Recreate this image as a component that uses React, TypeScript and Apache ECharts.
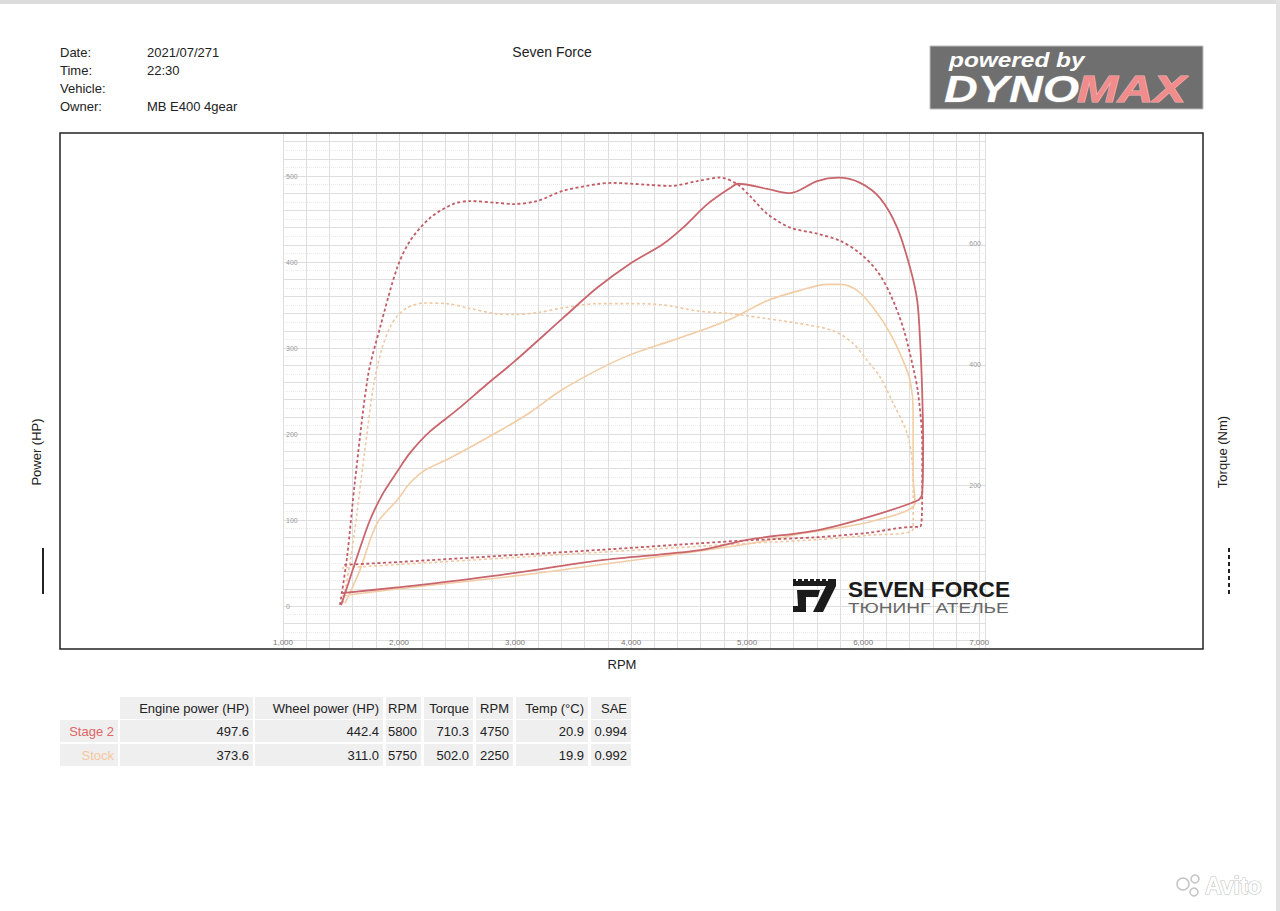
import React, { useEffect, useRef } from 'react';
import * as echarts from 'echarts';

// ---------- data ----------
const rpmLabelValues = [1000, 2000, 3000, 4000, 5000, 6000, 7000];
const hpLabelValues = [0, 100, 200, 300, 400, 500];
const torqueLabelValues = [200, 400, 600];

const stage2PowerRpm = [1500, 1560, 1638, 1750, 1862, 1983, 2095, 2267, 2500, 2750, 3000, 3414, 3707, 3991, 4276, 4448, 4655, 4853, 4922, 5172, 5371, 5603, 5784, 5974, 6147, 6293, 6405, 6466, 6492, 6509, 6517, 6509, 6474, 6035, 5603, 5000, 4595, 3733, 2871, 2009, 1509];
const stage2PowerHp = [1, 25, 57, 100, 131, 156, 178, 203, 228, 257, 285, 335, 370, 398, 421, 440, 467, 486, 491, 485, 480, 494, 498, 492, 474, 440, 393, 355, 305, 247, 189, 131, 123, 103, 88, 77, 65, 53, 36, 22, 15];

const stage2TorqueRpm = [1491, 1552, 1621, 1733, 1836, 1983, 2095, 2267, 2466, 2612, 2845, 2983, 3190, 3414, 3707, 3845, 4138, 4336, 4569, 4767, 4914, 5026, 5172, 5371, 5603, 5802, 5974, 6121, 6233, 6345, 6431, 6474, 6509, 6509, 6491, 6431, 6035, 5603, 5026, 4595, 3733, 2871, 2009, 1509];
const stage2TorqueNm = [2, 81, 208, 382, 461, 560, 605, 643, 666, 671, 668, 666, 671, 688, 699, 701, 698, 696, 704, 710, 699, 679, 650, 627, 617, 605, 584, 555, 517, 461, 395, 352, 269, 187, 131, 131, 121, 114, 109, 104, 93, 83, 73, 68];

const stockPowerRpm = [1534, 1600, 1664, 1810, 1983, 2095, 2224, 2440, 2871, 3129, 3388, 3733, 3991, 4336, 4595, 4879, 5172, 5457, 5690, 5802, 5948, 6086, 6233, 6345, 6405, 6431, 6431, 6431, 6448, 6060, 5457, 5000, 4000, 3000, 2000, 1510];
const stockPowerHp = [3, 22, 42, 96, 123, 143, 158, 172, 204, 225, 250, 276, 292, 308, 320, 335, 355, 367, 374, 374, 367, 347, 317, 285, 262, 227, 189, 150, 120, 98, 84, 72, 53, 35, 20, 12];

const stockTorqueRpm = [1517, 1600, 1700, 1780, 1850, 1922, 1983, 2069, 2207, 2414, 2612, 2845, 2983, 3190, 3414, 3707, 3991, 4276, 4569, 4879, 5172, 5457, 5741, 5914, 6035, 6147, 6259, 6379, 6422, 6431, 6431, 6035, 5603, 5026, 4595, 3733, 2871, 2009, 1509];
const stockTorqueNm = [5, 100, 250, 365, 425, 462, 480, 494, 502, 501, 493, 484, 483, 486, 494, 501, 501, 499, 489, 484, 476, 468, 456, 435, 407, 379, 336, 286, 241, 187, 128, 117, 110, 104, 99, 89, 79, 69, 63];

const infoLabels = ['Date:', 'Time:', 'Vehicle:', 'Owner:'];
const infoValues = ['2021/07/271', '22:30', '', 'MB E400 4gear'];
const chartTitle = 'Seven Force';

const tableHeader = ['', 'Engine power (HP)', 'Wheel power (HP)', 'RPM', 'Torque', 'RPM', 'Temp (°C)', 'SAE'];
const runNames = ['Stage 2', 'Stock'];
const stage2Row = ['497.6', '442.4', '5800', '710.3', '4750', '20.9', '0.994'];
const stockRow = ['373.6', '311.0', '5750', '502.0', '2250', '19.9', '0.992'];

// ---------- styles ----------
const FONT = '"Liberation Sans", Arial, Helvetica, sans-serif';
const STAGE2 = '#c9656c';
const STAGE2_DASH = '#c05c66';
const STOCK = '#f2cca4';
const STOCK_DASH = '#efc9a4';

const zip = (a: number[], b: number[]) => a.map((x, i) => [x, b[i]]);

function txt(text: string, x: number, y: number, opts: any = {}) {
  const align = opts.align || 'left';
  const va = opts.verticalAlign || 'middle';
  const style: any = {
    text,
    fill: opts.fill || '#222',
    stroke: opts.stroke,
    lineWidth: opts.lineWidth,
    align,
    textAlign: align,
    verticalAlign: va,
    textVerticalAlign: va,
  };
  if (opts.font) {
    style.font = opts.font;
  } else {
    style.fontSize = opts.fontSize || 13;
    style.fontFamily = opts.fontFamily || FONT;
    style.fontWeight = opts.fontWeight || 'normal';
  }
  return {
    type: 'text',
    x,
    y,
    z: opts.z ?? 50,
    rotation: opts.rotation || 0,
    scaleX: opts.scaleX || 1,
    scaleY: opts.scaleY || 1,
    style,
  };
}

function buildGraphics() {
  const els: any[] = [];
  // page edges
  els.push({ type: 'rect', shape: { x: 0, y: 0, width: 1280, height: 4 }, style: { fill: '#dcdcdc' }, z: 1 });
  els.push({ type: 'rect', shape: { x: 1276, y: 0, width: 4, height: 911 }, style: { fill: '#e2e2e2' }, z: 1 });

  // header info
  infoLabels.forEach((l, i) => {
    els.push(txt(l, 60, 52 + i * 18, { fontSize: 13 }));
    if (infoValues[i]) els.push(txt(infoValues[i], 147, 52 + i * 18, { fontSize: 13 }));
  });
  els.push(txt(chartTitle, 552, 52, { align: 'center', fontSize: 14 }));

  // DYNOMAX logo
  els.push({ type: 'rect', shape: { x: 930, y: 46, width: 273, height: 63 }, style: { fill: '#6f6f6f', stroke: '#bdbdbd', lineWidth: 1 }, z: 40 });
  els.push(txt('powered by', 949, 60, { fill: '#ffffff', font: 'italic bold 20px "Liberation Sans", sans-serif', scaleX: 1.22 }));
  els.push(txt('DYNO', 944, 89, { fill: '#ffffff', stroke: '#8a8a8a', lineWidth: 1, font: 'italic bold 36px "Liberation Sans", sans-serif', scaleX: 1.3 }));
  els.push(txt('MAX', 1077, 89, { fill: '#f08c8c', stroke: '#f5b5b5', lineWidth: 1, font: 'italic bold 36px "Liberation Sans", sans-serif', scaleX: 1.36 }));

  // chart frame
  els.push({ type: 'rect', shape: { x: 60, y: 133, width: 1143, height: 516 }, style: { fill: 'none', stroke: '#222', lineWidth: 1.5 }, z: 60 });

  // axis titles + legend marks
  els.push(txt('Power (HP)', 36, 452, { align: 'center', rotation: Math.PI / 2, fontSize: 13 }));
  els.push(txt('Torque (Nm)', 1222, 452, { align: 'center', rotation: Math.PI / 2, fontSize: 13 }));
  els.push({ type: 'line', shape: { x1: 43, y1: 548, x2: 43, y2: 594 }, style: { stroke: '#222', lineWidth: 2 }, z: 50 });
  els.push({ type: 'line', shape: { x1: 1229, y1: 548, x2: 1229, y2: 594 }, style: { stroke: '#222', lineWidth: 2, lineDash: [4, 3] }, z: 50 });
  els.push(txt('RPM', 622, 664, { align: 'center', fontSize: 13 }));

  // Seven Force logo mark
  const dark = '#1b1b1b';
  els.push({ type: 'rect', shape: { x: 793, y: 579, width: 43, height: 7 }, style: { fill: dark }, z: 55 });
  for (let i = 0; i < 6; i++) {
    els.push({ type: 'rect', shape: { x: 796 + i * 6, y: 579, width: 2, height: 2 }, style: { fill: '#ffffff' }, z: 56 });
  }
  els.push({ type: 'polygon', shape: { points: [[797, 590], [820, 590], [818, 597], [806, 597], [806, 612], [793, 612], [793, 606], [798, 606]] }, style: { fill: dark }, z: 55 });
  els.push({ type: 'polygon', shape: { points: [[826, 586], [836, 586], [823, 612], [813, 612]] }, style: { fill: dark }, z: 55 });
  els.push(txt('SEVEN FORCE', 848, 589, { fontSize: 22.6, fontWeight: 'bold', fill: '#1b1b1b' }));
  els.push(txt('ТЮНИНГ АТЕЛЬЕ', 848, 608, { fontSize: 14, fill: '#666', scaleX: 1.36 }));

  // table
  const colX = [60, 120, 255, 386, 424, 476, 516, 591];
  const colW = [58, 133, 128, 35, 49, 37, 72, 40];
  const rowY = [697, 720, 744];
  const rowH = 22;
  const cellFill = '#efefef';
  const rows = [tableHeader, [runNames[0], ...stage2Row], [runNames[1], ...stockRow]];
  rows.forEach((row, r) => {
    row.forEach((cell, c) => {
      if (!(r === 0 && c === 0)) {
        els.push({ type: 'rect', shape: { x: colX[c], y: rowY[r], width: colW[c], height: rowH }, style: { fill: cellFill }, z: 20 });
      }
      if (cell) {
        let fill = '#222';
        if (c === 0 && r === 1) fill = '#e06565';
        if (c === 0 && r === 2) fill = '#f6c79b';
        els.push(txt(cell, colX[c] + colW[c] - 4, rowY[r] + rowH / 2, { align: 'right', fontSize: 13, fill }));
      }
    });
  });

  // Avito watermark
  els.push({ type: 'circle', shape: { cx: 1183, cy: 884, r: 6 }, style: { fill: '#ffffff', stroke: '#c4c4c4', lineWidth: 1.5 }, z: 70 });
  els.push({ type: 'circle', shape: { cx: 1195, cy: 879, r: 4 }, style: { fill: '#ffffff', stroke: '#c4c4c4', lineWidth: 1.5 }, z: 70 });
  els.push({ type: 'circle', shape: { cx: 1194, cy: 892, r: 4 }, style: { fill: '#ffffff', stroke: '#c4c4c4', lineWidth: 1.5 }, z: 70 });
  els.push(txt('Avito', 1205, 886, { fontSize: 23, fontWeight: 'bold', fill: '#ffffff', stroke: '#c4c4c4', lineWidth: 1.2, z: 70 }));
  return els;
}

function buildOption(): any {
  const axisHidden = { axisLine: { show: false, lineStyle: { color: '#999' } }, axisTick: { show: false } };
  // torque label axis: same px-per-Nm as the data torque axis, zero at y=606 -> range -200..800
  const tqPx = 516 / 855;
  return {
    animation: false,
    backgroundColor: '#ffffff',
    grid: [
      { left: 283, top: 133, width: 702, height: 516 },
      { left: 283, top: 124.4, width: 702, height: 533.2 },
      { left: 283, top: 606 - 800 * tqPx, width: 702, height: 1000 * tqPx },
    ],
    xAxis: [
      {
        gridIndex: 0, type: 'value', min: 1000, max: 7050, interval: 200, ...axisHidden,
        axisLabel: {
          inside: true, interval: 0, margin: 3, fontSize: 8, color: '#777', fontFamily: FONT,
          formatter: (v: number) => (rpmLabelValues.includes(v) ? v.toLocaleString('en-US') : ''),
        },
        splitLine: { show: true, lineStyle: { color: '#dedede', width: 1 } },
      },
      { gridIndex: 1, type: 'value', min: 1000, max: 7050, show: false },
      { gridIndex: 2, type: 'value', min: 1000, max: 7050, show: false },
    ],
    yAxis: [
      {
        gridIndex: 0, type: 'value', min: -50, max: 550, position: 'left', ...axisHidden,
        axisLabel: { show: false }, splitLine: { show: false },
      },
      {
        gridIndex: 0, type: 'value', min: -71.25, max: 783.75, position: 'right', ...axisHidden,
        axisLabel: { show: false }, splitLine: { show: false },
      },
      {
        gridIndex: 1, type: 'value', min: -60, max: 560, interval: 20, position: 'left', ...axisHidden,
        axisLabel: {
          inside: true, interval: 0, margin: 3, fontSize: 7, color: '#999999', fontFamily: FONT,
          formatter: (v: number) => (hpLabelValues.includes(v) ? String(v) : ''),
        },
        splitLine: { show: true, showMinLine: false, showMaxLine: false, lineStyle: { color: '#dedede', width: 1 } },
        minorTick: { show: false, splitNumber: 2 },
        minorSplitLine: { show: true, lineStyle: { color: '#eaeaea', width: 1, type: 'dotted' } },
      },
      {
        gridIndex: 2, type: 'value', min: -200, max: 800, interval: 200, position: 'right', ...axisHidden,
        axisLabel: {
          inside: true, interval: 0, margin: 4, fontSize: 7, color: '#999999', fontFamily: FONT,
          formatter: (v: number) => (torqueLabelValues.includes(v) ? String(v) : ''),
        },
        splitLine: { show: false },
      },
    ],
    series: [
      {
        name: 'Stock Torque', type: 'line', xAxisIndex: 0, yAxisIndex: 1, data: zip(stockTorqueRpm, stockTorqueNm),
        symbol: 'none', smooth: 0.3, z: 3, lineStyle: { color: STOCK_DASH, width: 1.6, type: [3, 2.5] },
      },
      {
        name: 'Stock Power', type: 'line', xAxisIndex: 0, yAxisIndex: 0, data: zip(stockPowerRpm, stockPowerHp),
        symbol: 'none', smooth: 0.3, z: 3, lineStyle: { color: STOCK, width: 1.6 },
      },
      {
        name: 'Stage 2 Torque', type: 'line', xAxisIndex: 0, yAxisIndex: 1, data: zip(stage2TorqueRpm, stage2TorqueNm),
        symbol: 'none', smooth: 0.3, z: 4, lineStyle: { color: STAGE2_DASH, width: 1.8, type: [3, 2.5] },
      },
      {
        name: 'Stage 2 Power', type: 'line', xAxisIndex: 0, yAxisIndex: 0, data: zip(stage2PowerRpm, stage2PowerHp),
        symbol: 'none', smooth: 0.3, z: 4, lineStyle: { color: STAGE2, width: 1.8 },
      },
    ],
    graphic: { elements: buildGraphics() },
  };
}

export default function App() {
  const ref = useRef<HTMLDivElement>(null);
  useEffect(() => {
    if (!ref.current) return;
    const chart = echarts.init(ref.current, undefined, { renderer: 'svg' });
    chart.setOption(buildOption());
    return () => chart.dispose();
  }, []);
  return <div ref={ref} style={{ position: 'absolute', left: 0, top: 0, width: 1280, height: 911, background: '#fff' }} />;
}
